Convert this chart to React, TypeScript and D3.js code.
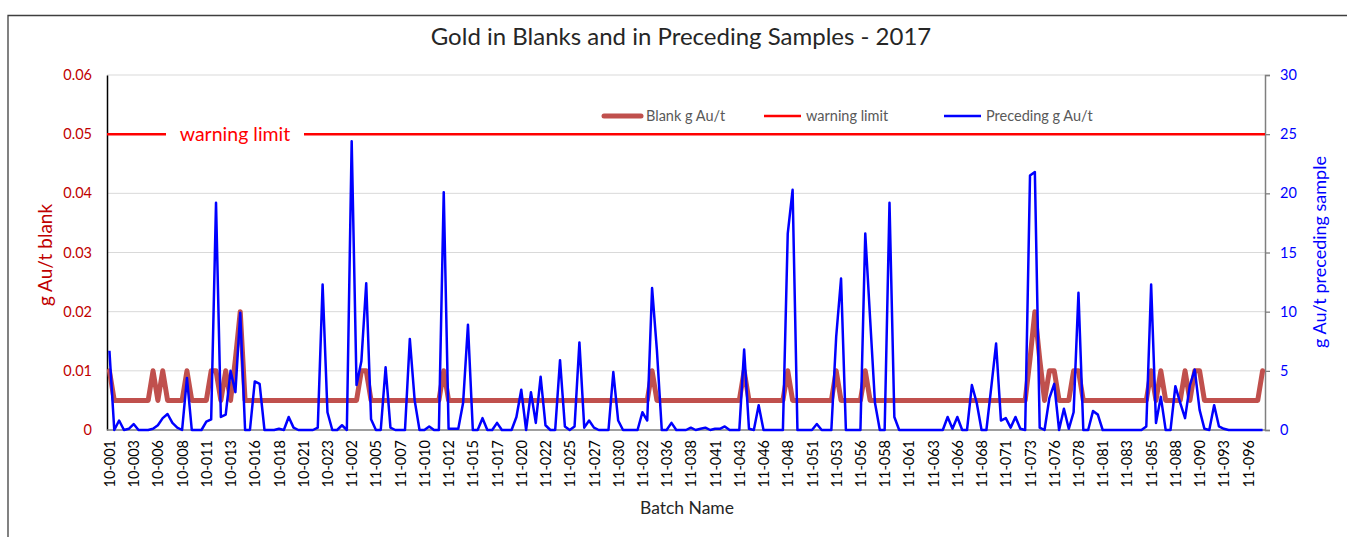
import { useEffect, useRef } from 'react';
import * as d3 from 'd3';

// batch name of every blank / preceding-sample pair, in chart order
const batchNames = `
10-001 10-001 10-002 10-002 10-002 10-003 10-003 10-004 10-004 10-005
10-006 10-006 10-007 10-007 10-007 10-008 10-008 10-009 10-009 10-010
10-011 10-011 10-012 10-012 10-012 10-013 10-013 10-014 10-014 10-015
10-016 10-016 10-017 10-017 10-017 10-018 10-018 10-019 10-019 10-020
10-021 10-021 10-022 10-022 10-022 10-023 10-023 10-024 10-025 11-001
11-002 11-002 11-003 11-003 11-004 11-005 11-005 11-006 11-006 11-006
11-007 11-007 11-008 11-008 11-009 11-010 11-010 11-011 11-011 11-011
11-012 11-012 11-013 11-013 11-014 11-015 11-015 11-016 11-016 11-016
11-017 11-017 11-018 11-018 11-019 11-020 11-020 11-021 11-021 11-021
11-022 11-022 11-023 11-023 11-024 11-025 11-025 11-026 11-026 11-026
11-027 11-027 11-028 11-028 11-029 11-030 11-030 11-031 11-031 11-031
11-032 11-033 11-034 11-034 11-035 11-036 11-036 11-037 11-037 11-037
11-038 11-038 11-039 11-039 11-040 11-041 11-041 11-042 11-042 11-042
11-043 11-043 11-044 11-044 11-045 11-046 11-046 11-047 11-047 11-047
11-048 11-048 11-049 11-049 11-050 11-051 11-051 11-052 11-052 11-052
11-053 11-053 11-054 11-054 11-055 11-056 11-056 11-057 11-057 11-057
11-058 11-058 11-059 11-059 11-060 11-061 11-061 11-062 11-062 11-062
11-063 11-063 11-064 11-064 11-065 11-066 11-066 11-067 11-067 11-067
11-068 11-068 11-069 11-069 11-070 11-071 11-071 11-072 11-072 11-072
11-073 11-073 11-074 11-074 11-075 11-076 11-076 11-077 11-077 11-077
11-078 11-078 11-079 11-079 11-080 11-081 11-081 11-082 11-082 11-082
11-083 11-083 11-084 11-084 11-084 11-085 11-085 11-086 11-086 11-087
11-088 11-088 11-089 11-089 11-089 11-090 11-090 11-091 11-091 11-092
11-093 11-093 11-094 11-094 11-095 11-096 11-096 11-097 11-097
`.trim().split(/\s+/);

// g Au/t in the blank (left axis)
const blankAu = [
  0.01, 0.005, 0.005, 0.005, 0.005, 0.005, 0.005, 0.005, 0.005, 0.01,
  0.005, 0.01, 0.005, 0.005, 0.005, 0.005, 0.01, 0.005, 0.005, 0.005,
  0.005, 0.01, 0.01, 0.005, 0.01, 0.005, 0.012, 0.02, 0.005, 0.005,
  0.005, 0.005, 0.005, 0.005, 0.005, 0.005, 0.005, 0.005, 0.005, 0.005,
  0.005, 0.005, 0.005, 0.005, 0.005, 0.005, 0.005, 0.005, 0.005, 0.005,
  0.005, 0.005, 0.01, 0.01, 0.005, 0.005, 0.005, 0.005, 0.005, 0.005,
  0.005, 0.005, 0.005, 0.005, 0.005, 0.005, 0.005, 0.005, 0.005, 0.01,
  0.005, 0.005, 0.005, 0.005, 0.005, 0.005, 0.005, 0.005, 0.005, 0.005,
  0.005, 0.005, 0.005, 0.005, 0.005, 0.005, 0.005, 0.005, 0.005, 0.005,
  0.005, 0.005, 0.005, 0.005, 0.005, 0.005, 0.005, 0.005, 0.005, 0.005,
  0.005, 0.005, 0.005, 0.005, 0.005, 0.005, 0.005, 0.005, 0.005, 0.005,
  0.005, 0.005, 0.01, 0.005, 0.005, 0.005, 0.005, 0.005, 0.005, 0.005,
  0.005, 0.005, 0.005, 0.005, 0.005, 0.005, 0.005, 0.005, 0.005, 0.005,
  0.005, 0.01, 0.005, 0.005, 0.005, 0.005, 0.005, 0.005, 0.005, 0.005,
  0.01, 0.005, 0.005, 0.005, 0.005, 0.005, 0.005, 0.005, 0.005, 0.005,
  0.01, 0.005, 0.005, 0.005, 0.005, 0.005, 0.01, 0.005, 0.005, 0.005,
  0.005, 0.005, 0.005, 0.005, 0.005, 0.005, 0.005, 0.005, 0.005, 0.005,
  0.005, 0.005, 0.005, 0.005, 0.005, 0.005, 0.005, 0.005, 0.005, 0.005,
  0.005, 0.005, 0.005, 0.005, 0.005, 0.005, 0.005, 0.005, 0.005, 0.005,
  0.012, 0.02, 0.012, 0.005, 0.01, 0.01, 0.005, 0.005, 0.005, 0.01,
  0.01, 0.005, 0.005, 0.005, 0.005, 0.005, 0.005, 0.005, 0.005, 0.005,
  0.005, 0.005, 0.005, 0.005, 0.005, 0.01, 0.005, 0.01, 0.005, 0.005,
  0.005, 0.005, 0.01, 0.005, 0.01, 0.01, 0.005, 0.005, 0.005, 0.005,
  0.005, 0.005, 0.005, 0.005, 0.005, 0.005, 0.005, 0.005, 0.01,
];

// g Au/t in the preceding sample (right axis)
const precedingAu = [
  6.7, 0, 0.8, 0, 0.1, 0.5, 0, 0, 0, 0.1,
  0.4, 1.0, 1.35, 0.6, 0.2, 0, 4.4, 0, 0, 0,
  0.7, 0.9, 19.2, 1.1, 1.3, 5.0, 3.2, 9.9, 0, 0,
  4.1, 3.9, 0, 0, 0, 0.1, 0, 1.1, 0.2, 0,
  0, 0, 0, 0.2, 12.3, 1.5, 0, 0, 0.4, 0,
  24.4, 3.8, 5.8, 12.4, 0.9, 0, 0, 5.3, 0.2, 0,
  0, 0, 7.7, 2.5, 0, 0, 0.3, 0, 0, 20.1,
  0.1, 0.1, 0.1, 2.3, 8.9, 0, 0, 1.0, 0, 0,
  0.6, 0, 0, 0, 1.1, 3.4, 0, 3.2, 0.6, 4.5,
  0.4, 0, 0, 5.9, 0.3, 0, 0.3, 7.4, 0.2, 0.8,
  0.2, 0, 0, 0, 4.9, 0.8, 0, 0, 0, 0,
  1.5, 0.8, 12.0, 6.7, 0, 0, 0.6, 0, 0, 0,
  0.2, 0, 0.1, 0.2, 0, 0.1, 0.1, 0.3, 0, 0,
  0, 6.8, 0.1, 0, 2.1, 0, 0, 0, 0, 0,
  16.6, 20.3, 0, 0, 0, 0, 0.5, 0, 0, 0,
  7.9, 12.8, 0, 0, 0, 0, 16.6, 9.4, 2.3, 0,
  0, 19.2, 1.1, 0, 0, 0, 0, 0, 0, 0,
  0, 0, 0, 1.1, 0.1, 1.1, 0, 0, 3.8, 2.3,
  0, 0, 3.6, 7.3, 0.8, 1.0, 0.2, 1.1, 0.1, 0,
  21.5, 21.8, 0.2, 0, 2.7, 3.9, 0, 1.8, 0.1, 1.5,
  11.6, 0, 0, 1.6, 1.3, 0, 0, 0, 0, 0,
  0, 0, 0, 0, 0.3, 12.3, 0.6, 2.8, 0, 0,
  3.7, 2.3, 1.0, 3.8, 5.1, 1.7, 0.1, 0, 2.1, 0.3,
  0.1, 0, 0, 0, 0, 0, 0, 0, 0,
];

const warningLimit = 0.05;
const blankTicks = [0, 0.01, 0.02, 0.03, 0.04, 0.05, 0.06];
const precedingTicks = [0, 5, 10, 15, 20, 25, 30];
const labelEvery = 5;

const FONT = 'Lato, "Open Sans", sans-serif';

const App = () => {
  const ref = useRef<SVGSVGElement>(null);

  useEffect(() => {
    const W = 1347;
    const H = 537;
    const plot = { left: 107, right: 1265, top: 75, bottom: 430 };

    const svg = d3.select(ref.current);
    svg.selectAll('*').remove();
    svg.attr('width', W).attr('height', H).style('font-family', FONT);

    svg.append('rect').attr('width', W).attr('height', H).attr('fill', '#fff');

    // chart frame
    svg.append('path')
      .attr('d', `M8,${H} V15.5 H${W}`)
      .attr('fill', 'none')
      .attr('stroke', '#3f3f3f')
      .attr('stroke-width', 1.3);

    const idx = d3.range(batchNames.length);
    const x = d3.scalePoint<number>()
      .domain(idx)
      .range([plot.left, plot.right])
      .padding(0.5);
    const yBlank = d3.scaleLinear().domain([0, 0.06]).range([plot.bottom, plot.top]);
    const yPrec = d3.scaleLinear().domain([0, 30]).range([plot.bottom, plot.top]);

    // gridlines
    svg.append('g')
      .selectAll('line')
      .data(blankTicks.filter((t) => t > 0))
      .enter()
      .append('line')
      .attr('x1', plot.left)
      .attr('x2', plot.right)
      .attr('y1', (d) => yBlank(d))
      .attr('y2', (d) => yBlank(d))
      .attr('stroke', '#d9d9d9')
      .attr('stroke-width', 1);

    // left axis (blank)
    const left = svg.append('g')
      .attr('transform', `translate(${plot.left},0)`)
      .call(d3.axisLeft(yBlank).tickValues(blankTicks).tickSize(0).tickPadding(15)
        .tickFormat((d) => (+d === 0 ? '0' : d3.format('.2f')(+d))));
    left.select('.domain').attr('stroke', '#000').attr('stroke-width', 1.5);
    left.selectAll('text')
      .attr('fill', '#c00000')
      .style('font-family', FONT)
      .style('font-size', '14.5px');

    // right axis (preceding)
    const right = svg.append('g')
      .attr('transform', `translate(${plot.right},0)`)
      .call(d3.axisRight(yPrec).tickValues(precedingTicks).tickSize(5).tickPadding(10));
    right.select('.domain').attr('stroke', '#7f7f7f').attr('stroke-width', 1.5);
    right.selectAll('line').attr('stroke', '#7f7f7f').attr('stroke-width', 1.3);
    right.selectAll('text')
      .attr('fill', '#0000ff')
      .style('font-family', FONT)
      .style('font-size', '14.5px');

    // category axis
    const bottom = svg.append('g')
      .attr('transform', `translate(0,${plot.bottom})`)
      .call(d3.axisBottom(x)
        .tickValues(idx.filter((i) => i % labelEvery === 0))
        .tickSize(0)
        .tickFormat((i) => batchNames[i as number]));
    bottom.select('.domain')
      .attr('d', `M${plot.left},0H${plot.right}`)
      .attr('stroke', '#7f7f7f')
      .attr('stroke-width', 1.5);
    bottom.selectAll('text')
      .attr('transform', 'rotate(-90)')
      .attr('x', -10)
      .attr('y', 0)
      .attr('dy', '0.35em')
      .style('text-anchor', 'end')
      .attr('fill', '#000')
      .style('font-family', FONT)
      .style('font-size', '14.5px');

    // warning limit line with its label
    svg.append('line')
      .attr('x1', plot.left)
      .attr('x2', plot.right)
      .attr('y1', yBlank(warningLimit))
      .attr('y2', yBlank(warningLimit))
      .attr('stroke', '#ff0000')
      .attr('stroke-width', 2.5);
    svg.append('rect')
      .attr('x', 166)
      .attr('y', yBlank(warningLimit) - 12)
      .attr('width', 138)
      .attr('height', 24)
      .attr('fill', '#fff');
    svg.append('text')
      .attr('x', 235)
      .attr('y', yBlank(warningLimit))
      .attr('dy', '0.36em')
      .attr('text-anchor', 'middle')
      .attr('fill', '#ff0000')
      .style('font-size', '19.5px')
      .text('warning limit');

    // blank series
    const blankLine = d3.line<number>()
      .x((_, i) => x(i) as number)
      .y((d) => yBlank(d));
    svg.append('path')
      .datum(blankAu)
      .attr('d', blankLine)
      .attr('fill', 'none')
      .attr('stroke', '#c0504d')
      .attr('stroke-width', 5)
      .attr('stroke-linejoin', 'round')
      .attr('stroke-linecap', 'round');

    // preceding sample series
    const precLine = d3.line<number>()
      .x((_, i) => x(i) as number)
      .y((d) => yPrec(d));
    svg.append('path')
      .datum(precedingAu)
      .attr('d', precLine)
      .attr('fill', 'none')
      .attr('stroke', '#0000ff')
      .attr('stroke-width', 2.5)
      .attr('stroke-linejoin', 'round');

    // legend
    const legend = [
      { label: 'Blank g Au/t', color: '#c0504d', width: 5, x: 604 },
      { label: 'warning limit', color: '#ff0000', width: 2.5, x: 764 },
      { label: 'Preceding g Au/t', color: '#0000ff', width: 2.5, x: 944 },
    ];
    const lg = svg.append('g').attr('transform', 'translate(0,116)');
    legend.forEach((l) => {
      lg.append('line')
        .attr('x1', l.x)
        .attr('x2', l.x + 37)
        .attr('stroke', l.color)
        .attr('stroke-width', l.width)
        .attr('stroke-linecap', l.width > 3 ? 'round' : 'butt');
      lg.append('text')
        .attr('x', l.x + 42)
        .attr('dy', '0.35em')
        .attr('fill', '#595959')
        .style('font-size', '14.5px')
        .text(l.label);
    });

    // titles
    svg.append('text')
      .attr('x', 681)
      .attr('y', 45)
      .attr('text-anchor', 'middle')
      .attr('fill', '#262626')
      .style('font-size', '24px')
      .text('Gold in Blanks and in Preceding Samples - 2017');

    svg.append('text')
      .attr('x', 687)
      .attr('y', 514)
      .attr('text-anchor', 'middle')
      .attr('fill', '#262626')
      .style('font-size', '17.5px')
      .text('Batch Name');

    svg.append('text')
      .attr('transform', 'translate(45,255) rotate(-90)')
      .attr('dy', '0.35em')
      .attr('text-anchor', 'middle')
      .attr('fill', '#c00000')
      .style('font-size', '19px')
      .text('g Au/t blank');

    svg.append('text')
      .attr('transform', 'translate(1320,252) rotate(-90)')
      .attr('dy', '0.35em')
      .attr('text-anchor', 'middle')
      .attr('fill', '#0000ff')
      .style('font-size', '18px')
      .text('g Au/t preceding sample');
  }, []);

  return <svg ref={ref} style={{ position: 'absolute', left: 0, top: 0, display: 'block' }} />;
};

export default App;
